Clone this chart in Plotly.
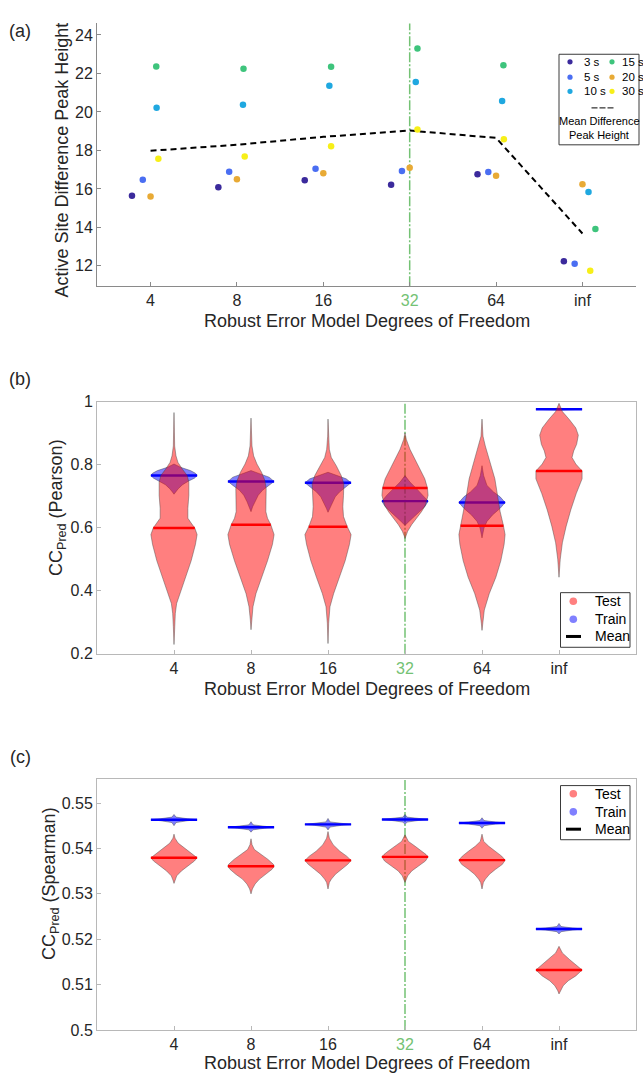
import numpy as np
import plotly.graph_objects as go

# ---------------- data ----------------
categories = ["4", "8", "16", "32", "64", "inf"]
highlight_category = "32"

# Panel (a): active-site difference peak height per time point
series_names = ["3 s", "5 s", "10 s", "15 s", "20 s", "30 s"]
peak_3s = [15.65, 16.09, 16.45, 16.21, 16.76, 12.24]
peak_5s = [16.48, 16.89, 17.05, 16.93, 16.88, 12.11]
peak_10s = [20.22, 20.37, 21.36, 21.56, 20.57, 15.84]
peak_15s = [22.36, 22.24, 22.35, 23.30, 22.43, 13.91]
peak_20s = [15.61, 16.50, 16.81, 17.10, 16.69, 16.24]
peak_30s = [17.57, 17.68, 18.22, 19.09, 18.58, 11.75]

# Panel (b): Pearson CC_pred violin profiles (y level, relative density)
pearson_test_y = [
    [0.9656, 0.9115, 0.8594, 0.8281, 0.8073, 0.7865, 0.7656, 0.7448, 0.7031, 0.6615, 0.6302, 0.6146, 0.5990, 0.5781, 0.5469, 0.4948, 0.4427, 0.3906, 0.3594, 0.3281, 0.2865, 0.2292],
    [0.9479, 0.9010, 0.8594, 0.8281, 0.8021, 0.7760, 0.7500, 0.7240, 0.6823, 0.6510, 0.6302, 0.6094, 0.5781, 0.5469, 0.4948, 0.4427, 0.3906, 0.3490, 0.3073, 0.2760],
    [0.9448, 0.8906, 0.8490, 0.8229, 0.7969, 0.7656, 0.7396, 0.7031, 0.6667, 0.6354, 0.6042, 0.5781, 0.5469, 0.4948, 0.4427, 0.3906, 0.3490, 0.2969, 0.2323],
    [0.9010, 0.8802, 0.8490, 0.8177, 0.7865, 0.7552, 0.7260, 0.7031, 0.6719, 0.6510, 0.6302, 0.6094, 0.5885, 0.5729, 0.5656],
    [0.9448, 0.8906, 0.8594, 0.8073, 0.7552, 0.7031, 0.6510, 0.6063, 0.5781, 0.5469, 0.4948, 0.4427, 0.3906, 0.3385, 0.2969, 0.2740],
    [0.9948, 0.9688, 0.9427, 0.9167, 0.8938, 0.8646, 0.8438, 0.8229, 0.8021, 0.7802, 0.7552, 0.7083, 0.6563, 0.6042, 0.5521, 0.5000, 0.4427],
]
pearson_test_d = [
    [0, 1, 2, 6, 12, 25, 40, 45, 45, 42, 42, 52, 63, 70, 65, 52, 35, 18, 8, 4, 2, 0],
    [0, 1, 3, 8, 18, 32, 42, 46, 46, 45, 50, 60, 70, 65, 50, 33, 15, 6, 2, 0],
    [0, 1, 4, 10, 25, 40, 48, 47, 45, 47, 58, 70, 65, 52, 35, 17, 6, 2, 0],
    [0, 4, 15, 30, 45, 60, 68, 70, 62, 50, 35, 20, 8, 2, 0],
    [0, 3, 10, 25, 39, 47, 55, 65, 70, 67, 57, 42, 22, 7, 2, 0],
    [0, 8, 25, 40, 46, 42, 35, 31, 40, 55, 55, 41, 28, 17, 8, 3, 0],
]
pearson_train_y = [
    [0.8021, 0.7917, 0.7813, 0.7729, 0.7656, 0.7573, 0.7469, 0.7365, 0.7240, 0.7135, 0.7063],
    [0.7813, 0.7708, 0.7604, 0.7469, 0.7344, 0.7188, 0.7031, 0.6823, 0.6667, 0.6510],
    [0.7760, 0.7656, 0.7552, 0.7427, 0.7292, 0.7135, 0.6979, 0.6771, 0.6615, 0.6490],
    [0.7656, 0.7448, 0.7240, 0.7031, 0.6844, 0.6667, 0.6510, 0.6354, 0.6198, 0.6073],
    [0.7969, 0.7656, 0.7344, 0.7135, 0.6979, 0.6802, 0.6615, 0.6406, 0.6198, 0.5990, 0.5677],
    [0.9790, 0.9775, 0.9760, 0.9745, 0.9730],
]
pearson_train_d = [
    [0, 20, 50, 65, 70, 62, 42, 26, 13, 5, 0],
    [0, 30, 55, 70, 55, 35, 22, 12, 5, 0],
    [0, 30, 55, 70, 55, 35, 22, 12, 5, 0],
    [0, 15, 35, 55, 70, 60, 45, 28, 12, 0],
    [0, 5, 15, 35, 55, 70, 55, 32, 15, 6, 0],
    [0, 30, 70, 30, 0],
]
pearson_test_mean = [0.5990, 0.6094, 0.6031, 0.7260, 0.6063, 0.7802]
pearson_train_mean = [0.7656, 0.7469, 0.7427, 0.6844, 0.6802, 0.9760]

# Panel (c): Spearman CC_pred violin profiles
spearman_test_y = [
    [0.54314, 0.54227, 0.54119, 0.54011, 0.53902, 0.53794, 0.53722, 0.53613, 0.53505, 0.53396, 0.53302, 0.53230],
    [0.54213, 0.54083, 0.53975, 0.53866, 0.53758, 0.53649, 0.53606, 0.53541, 0.53432, 0.53324, 0.53216, 0.53107, 0.52999],
    [0.54372, 0.54227, 0.54083, 0.53938, 0.53830, 0.53736, 0.53649, 0.53541, 0.53432, 0.53324, 0.53251, 0.53107],
    [0.54300, 0.54155, 0.54047, 0.53938, 0.53866, 0.53815, 0.53722, 0.53613, 0.53505, 0.53396, 0.53252],
    [0.54314, 0.54155, 0.54047, 0.53938, 0.53830, 0.53743, 0.53649, 0.53541, 0.53432, 0.53324, 0.53251, 0.53107],
    [0.51843, 0.51698, 0.51553, 0.51444, 0.51322, 0.51192, 0.51084, 0.50976, 0.50867, 0.50794],
]
spearman_test_d = [
    [0, 3, 12, 30, 50, 68, 60, 40, 22, 8, 3, 0],
    [0, 3, 10, 30, 50, 66, 68, 62, 45, 25, 12, 4, 0],
    [0, 4, 15, 35, 55, 68, 58, 40, 22, 10, 4, 0],
    [0, 10, 30, 50, 62, 68, 60, 40, 20, 8, 0],
    [0, 5, 20, 40, 58, 68, 60, 40, 22, 10, 4, 0],
    [0, 8, 25, 40, 55, 40, 22, 10, 3, 0],
]
spearman_train_y = [
    [0.54748, 0.54690, 0.54654, 0.54632, 0.54611, 0.54570, 0.54502],
    [0.54589, 0.54520, 0.54488, 0.54466, 0.54445, 0.54410, 0.54358],
    [0.54661, 0.54585, 0.54553, 0.54531, 0.54510, 0.54470, 0.54408],
    [0.54748, 0.54690, 0.54661, 0.54639, 0.54617, 0.54580, 0.54531],
    [0.54676, 0.54615, 0.54582, 0.54560, 0.54538, 0.54500, 0.54444],
    [0.52348, 0.52280, 0.52247, 0.52225, 0.52203, 0.52165, 0.52116],
]
spearman_train_d = [
    [0, 6, 40, 68, 40, 6, 0],
    [0, 6, 40, 68, 40, 6, 0],
    [0, 6, 40, 68, 40, 6, 0],
    [0, 6, 40, 68, 40, 6, 0],
    [0, 6, 40, 68, 40, 6, 0],
    [0, 6, 40, 68, 40, 6, 0],
]
spearman_test_mean = [0.53794, 0.53606, 0.53736, 0.53815, 0.53743, 0.51322]
spearman_train_mean = [0.54632, 0.54466, 0.54531, 0.54639, 0.54560, 0.52225]

# ---------------- styles / positions ----------------
W, H = 643, 1082
FONT = "Liberation Sans, Arial, sans-serif"
TXT = "#262626"
GREEN = "#74c274"
series_colors = ["#3b2a9c", "#4a6ef2", "#1fa8e0", "#3ec47c", "#e8aa35", "#f7ef18"]
# horizontal offsets (category units) of each series inside a group
series_offsets = [
    [-0.215] * 6,
    [-0.09] * 6,
    [0.07] * 6,
    [0.066, 0.076, 0.09, 0.09, 0.085, 0.15],
    [0.0] * 6,
    [0.09] * 6,
]
VIOLIN_HALF = 0.30
TEST_FILL = "rgba(255,0,0,0.5)"
TRAIN_FILL = "rgba(0,0,255,0.5)"
EDGE = "rgba(70,70,70,0.75)"


def px(x):
    return x / W


def py(y):
    return 1 - y / H


pos = np.arange(1, len(categories) + 1)
ticktext = [
    f'<span style="color:{GREEN}">{c}</span>' if c == highlight_category else c
    for c in categories
]
hl_pos = pos[categories.index(highlight_category)]

fig = go.Figure()

# ---------------- panel (a) ----------------
peaks = [peak_3s, peak_5s, peak_10s, peak_15s, peak_20s, peak_30s]
mean_peak = np.mean(np.array(peaks), axis=0)
fig.add_trace(go.Scatter(
    x=pos, y=mean_peak, mode="lines", xaxis="x", yaxis="y",
    line=dict(color="black", width=2, dash="6px,4px"), showlegend=False,
))
for name, vals, col, off in zip(series_names, peaks, series_colors, series_offsets):
    fig.add_trace(go.Scatter(
        x=pos + np.array(off), y=vals, mode="markers", name=name,
        xaxis="x", yaxis="y", showlegend=False,
        marker=dict(color=col, size=6.5, line=dict(width=0)),
    ))


# ---------------- violins ----------------
def violin_trace(ys_list, ds_list, fill, xa, ya):
    xs, yy = [], []
    for p, ys, ds in zip(pos, ys_list, ds_list):
        ys = np.asarray(ys, float)
        ds = np.asarray(ds, float)
        w = ds / ds.max() * VIOLIN_HALF
        xs += list(p + w) + list((p - w)[::-1]) + [None]
        yy += list(ys) + list(ys[::-1]) + [None]
    return go.Scatter(x=xs, y=yy, mode="lines", fill="toself", fillcolor=fill,
                      line=dict(color=EDGE, width=0.6), xaxis=xa, yaxis=ya,
                      showlegend=False, hoverinfo="skip")


def mean_trace(ys_list, ds_list, means, color, xa, ya):
    xs, yy = [], []
    for p, ys, ds, m in zip(pos, ys_list, ds_list, means):
        ys = np.asarray(ys, float)
        ds = np.asarray(ds, float)
        w = ds / ds.max() * VIOLIN_HALF
        hw = np.interp(m, ys[::-1], w[::-1])
        xs += [p - hw, p + hw, None]
        yy += [m, m, None]
    return go.Scatter(x=xs, y=yy, mode="lines", line=dict(color=color, width=2.4),
                      xaxis=xa, yaxis=ya, showlegend=False, hoverinfo="skip")


for (ty, td, tm, ry, rd, rm, xa, ya) in [
    (pearson_test_y, pearson_test_d, pearson_test_mean,
     pearson_train_y, pearson_train_d, pearson_train_mean, "x2", "y2"),
    (spearman_test_y, spearman_test_d, spearman_test_mean,
     spearman_train_y, spearman_train_d, spearman_train_mean, "x3", "y3"),
]:
    fig.add_trace(violin_trace(ry, rd, TRAIN_FILL, xa, ya))
    fig.add_trace(mean_trace(ry, rd, rm, "#0000ff", xa, ya))
    fig.add_trace(violin_trace(ty, td, TEST_FILL, xa, ya))
    fig.add_trace(mean_trace(ty, td, tm, "#ff0000", xa, ya))

# ---------------- axes ----------------
xdom = [px(97), px(636)]
tickfont = dict(family=FONT, size=16, color=TXT)
ax_common = dict(showgrid=False, zeroline=False, showline=True, tickfont=tickfont,
                 ticks="inside", ticklen=4)

fig.update_layout(
    width=W, height=H, margin=dict(l=0, r=0, t=0, b=0),
    paper_bgcolor="white", plot_bgcolor="white", showlegend=False,
    font=dict(family=FONT, color=TXT),
    xaxis=dict(domain=xdom, range=[0.38, 6.62], tickvals=pos, ticktext=ticktext,
               anchor="y", linecolor="#8a8a8a", tickcolor="#8a8a8a", **ax_common),
    yaxis=dict(domain=[py(282.7), py(15.7)], range=[10.94, 24.6],
               tickvals=[12, 14, 16, 18, 20, 22, 24], anchor="x",
               linecolor="#8a8a8a", tickcolor="#8a8a8a", **ax_common),
    xaxis2=dict(domain=xdom, range=[0, 7], tickvals=pos, ticktext=ticktext,
                anchor="y2", mirror=True, linecolor="#b8b8b8", tickcolor="#b8b8b8", **ax_common),
    yaxis2=dict(domain=[py(656), py(400)], range=[0.2, 1.0],
                tickvals=[0.2, 0.4, 0.6, 0.8, 1.0], ticktext=["0.2", "0.4", "0.6", "0.8", "1"],
                anchor="x2", mirror=True, linecolor="#b8b8b8", tickcolor="#b8b8b8", **ax_common),
    xaxis3=dict(domain=xdom, range=[0, 7], tickvals=pos, ticktext=ticktext,
                anchor="y3", mirror=True, linecolor="#b8b8b8", tickcolor="#b8b8b8", **ax_common),
    yaxis3=dict(domain=[py(1038.3), py(783.3)], range=[0.5, 0.5553],
                tickvals=[0.5, 0.51, 0.52, 0.53, 0.54, 0.55],
                ticktext=["0.5", "0.51", "0.52", "0.53", "0.54", "0.55"],
                anchor="x3", mirror=True, linecolor="#b8b8b8", tickcolor="#b8b8b8", **ax_common),
)

shapes = []
annotations = []

# highlighted vertical lines
for xa, ya in [("x", "y"), ("x2", "y2"), ("x3", "y3")]:
    shapes.append(dict(type="line", xref=xa, yref=f"{ya} domain", x0=hl_pos, x1=hl_pos,
                       y0=0, y1=1, line=dict(color=GREEN, width=1.5, dash="10px,2px,2px,2px"),
                       layer="below"))

# axis titles
xtitle = "Robust Error Model Degrees of Freedom"
for yc in [318, 692, 1071.7]:
    annotations.append(dict(text=xtitle, x=px(366.5), y=py(yc), xref="paper", yref="paper",
                            showarrow=False, xanchor="center", yanchor="middle",
                            font=dict(family=FONT, size=18, color=TXT)))
for text, xc, yc in [("Active Site Difference Peak Height", 62, 155),
                     ("CC<sub>Pred</sub> (Pearson)", 57, 508),
                     ("CC<sub>Pred</sub> (Spearman)", 50, 890)]:
    annotations.append(dict(text=text, x=px(xc), y=py(yc), xref="paper", yref="paper",
                            showarrow=False, textangle=-90, xanchor="center", yanchor="middle",
                            font=dict(family=FONT, size=18, color=TXT)))
# panel labels
for text, yc in [("(a)", 23), ("(b)", 377), ("(c)", 761)]:
    annotations.append(dict(text=text, x=px(20), y=py(yc), xref="paper", yref="paper",
                            showarrow=False, xanchor="center", yanchor="middle",
                            font=dict(family=FONT, size=18, color=TXT)))

# legend (a)
shapes.append(dict(type="rect", xref="paper", yref="paper", x0=px(559), x1=px(639),
                   y0=py(139), y1=py(47), line=dict(color="#3a3a3a", width=1),
                   fillcolor="white", layer="above"))
leg_rows = [54.7, 70.3, 84.7]
for i, (name, col) in enumerate(zip(series_names, series_colors)):
    colx = 0 if i < 3 else 1
    ry = leg_rows[i % 3]
    mx = 570 if colx == 0 else 612
    tx = 582 if colx == 0 else 619.5
    shapes.append(dict(type="circle", xref="paper", yref="paper", xsizemode="pixel",
                       ysizemode="pixel", xanchor=px(mx), yanchor=py(ry),
                       x0=-2.6, x1=2.6, y0=-2.6, y1=2.6, fillcolor=col,
                       line=dict(width=0), layer="above"))
    annotations.append(dict(text=name, x=px(tx), y=py(ry), xref="paper", yref="paper",
                            showarrow=False, xanchor="left", yanchor="middle",
                            font=dict(family=FONT, size=11.5, color="black")))
shapes.append(dict(type="line", xref="paper", yref="paper", x0=px(591.5), x1=px(615),
                   y0=py(101.5), y1=py(101.5), line=dict(color="black", width=1, dash="6px,2px"),
                   layer="above"))
for text, yc in [("Mean Difference", 115), ("Peak Height", 129)]:
    annotations.append(dict(text=text, x=px(599), y=py(yc), xref="paper", yref="paper",
                            showarrow=False, xanchor="center", yanchor="middle",
                            font=dict(family=FONT, size=11, color="black")))

# legends (b), (c)
for top, bottom, rows in [(594, 649.5, [602.7, 621, 638.5]), (790, 845, [798.3, 816.7, 834.3])]:
    shapes.append(dict(type="rect", xref="paper", yref="paper", x0=px(560.5), x1=px(630),
                       y0=py(bottom), y1=py(top), line=dict(color="#3a3a3a", width=1),
                       fillcolor="white", layer="above"))
    for ry, col in zip(rows[:2], ["#ff8080", "#8080ff"]):
        shapes.append(dict(type="circle", xref="paper", yref="paper", xsizemode="pixel",
                           ysizemode="pixel", xanchor=px(573.3), yanchor=py(ry),
                           x0=-3.8, x1=3.8, y0=-3.8, y1=3.8, fillcolor=col,
                           line=dict(width=0), layer="above"))
    shapes.append(dict(type="line", xref="paper", yref="paper", x0=px(566), x1=px(581),
                       y0=py(rows[2]), y1=py(rows[2]), line=dict(color="black", width=3),
                       layer="above"))
    for text, ry in zip(["Test", "Train", "Mean"], rows):
        annotations.append(dict(text=text, x=px(592.5), y=py(ry), xref="paper", yref="paper",
                                showarrow=False, xanchor="left", yanchor="middle",
                                font=dict(family=FONT, size=14, color="black")))

fig.update_layout(shapes=shapes, annotations=annotations)
# remove the default 8px body margin so the figure fills the page exactly
fig.write_html("out.html", config={"displayModeBar": False},
               post_script="document.body.style.margin='0px';document.body.style.overflow='hidden';")
